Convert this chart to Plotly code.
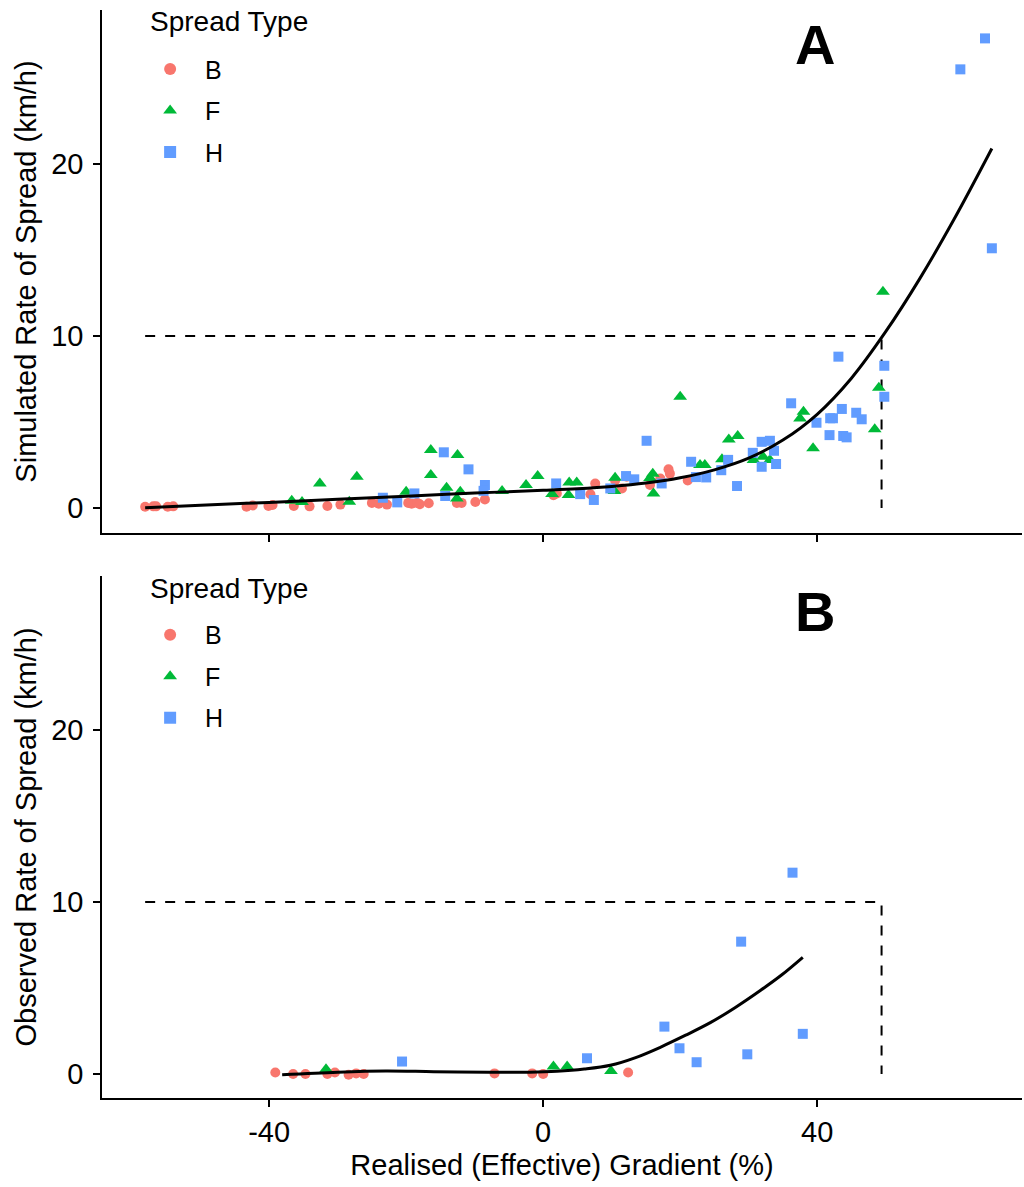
import plotly.graph_objects as go

# ---------------- data ----------------
# Panel A: simulated rate of spread
simB_x = [-58.1, -56.9, -56.5, -54.8, -54.0, -43.3, -42.4, -40.1, -39.5, -36.4, -34.1, -31.5,
          -29.6, -25.0, -24.0, -22.8, -19.7, -19.2, -18.4, -18.0, -16.7, -12.6, -11.9, -9.9,
          -8.5, 1.5, 2.0, 6.9, 7.6, 10.5, 11.5, 12.2, 15.6, 17.1, 18.3, 18.5, 21.1]
simB_y = [0.08, 0.10, 0.10, 0.08, 0.10, 0.08, 0.15, 0.12, 0.18, 0.12, 0.10, 0.12,
          0.20, 0.30, 0.25, 0.20, 0.30, 0.25, 0.30, 0.22, 0.28, 0.30, 0.30, 0.35,
          0.50, 0.75, 0.85, 0.80, 1.43, 1.60, 1.14, 1.82, 1.34, 1.72, 2.25, 2.00, 1.60]

simF_x = [-36.7, -35.2, -32.6, -28.3, -27.2, -20.0, -16.4, -16.4, -14.1, -12.5, -12.1, -12.6,
          -6.0, -2.5, -0.8, 1.3, 3.7, 3.8, 4.9, 10.4, 10.5, 15.6, 16.0, 16.1, 20.0, 22.9,
          23.6, 26.1, 27.1, 28.4, 30.7, 32.1, 33.1, 37.5, 38.0, 39.4, 48.4, 49.0, 49.6]
simF_y = [0.43, 0.35, 1.43, 0.37, 1.82, 0.95, 3.37, 1.92, 1.18, 3.08, 0.95, 0.56,
          0.99, 1.34, 1.86, 0.81, 0.76, 1.49, 1.49, 0.99, 1.76, 1.74, 2.00, 0.85, 6.47, 2.50,
          2.50, 2.83, 3.99, 4.19, 2.79, 2.98, 2.79, 5.20, 5.60, 3.47, 4.58, 7.00, 12.58]

simH_x = [-23.4, -21.3, -18.8, -14.5, -14.3, -10.9, -8.5, -8.7, 1.9, 5.4, 7.4, 9.8, 12.1,
          13.3, 15.1, 17.3, 21.6, 22.3, 23.8, 26.0, 27.0, 28.3, 30.6, 31.9, 33.1, 33.7, 31.9,
          34.0, 36.2, 39.9, 41.9, 42.3, 43.6, 41.8, 43.8, 44.3, 45.7, 46.5, 43.1, 49.8, 49.8,
          60.9, 64.5, 65.5]
simH_y = [0.60, 0.33, 0.85, 3.24, 0.70, 2.25, 1.34, 1.00, 1.43, 0.81, 0.47, 1.14, 1.86,
          1.67, 3.91, 1.43, 2.69, 1.80, 1.78, 2.20, 2.80, 1.28, 3.21, 3.85, 3.91, 3.33, 2.40,
          2.56, 6.09, 4.96, 5.22, 5.22, 5.76, 4.24, 4.19, 4.11, 5.54, 5.16, 8.80, 8.27, 6.47,
          25.5, 27.3, 15.1]

simFit_x = [-58.1, -50, -40, -30, -20, -10, 0, 5, 10, 15, 20, 25, 30, 35, 40, 45, 50,
            55, 60, 65.5]
simFit_y = [0.02, 0.17, 0.33, 0.51, 0.69, 0.87, 1.03, 1.12, 1.25, 1.45, 1.76, 2.22, 2.90,
            3.95, 5.45, 7.55, 10.25, 13.35, 16.8, 20.9]

# Panel B: observed rate of spread
obsB_x = [-39.1, -36.5, -34.7, -31.5, -30.4, -28.4, -27.3, -26.2, -7.1, -1.6, 0.0, 12.4]
obsB_y = [0.08, 0.00, 0.00, 0.00, 0.08, -0.05, 0.03, 0.00, 0.03, 0.03, 0.00, 0.08]

obsF_x = [-31.7, 1.5, 3.5, 9.9]
obsF_y = [0.27, 0.43, 0.43, 0.17]

obsH_x = [-20.6, 6.4, 17.7, 19.9, 22.4, 28.9, 29.8, 36.4, 37.9]
obsH_y = [0.72, 0.91, 2.75, 1.49, 0.68, 7.69, 1.14, 11.70, 2.33]

obsFit_x = [-38.1, -30, -23, -16, -8, -2, 2, 6, 9.8, 13.5, 17.1, 20.8, 24.4, 28, 31.7,
            34.8, 37.9]
obsFit_y = [-0.05, 0.10, 0.17, 0.13, 0.10, 0.10, 0.15, 0.28, 0.50, 0.95, 1.55, 2.25,
            2.98, 3.85, 4.85, 5.75, 6.78]

# threshold guide (10 km/h, ~49.4 % gradient)
thr_x = [-58.1, 49.4, 49.4]
thr_y = [10, 10, 0]

types = ["B", "F", "H"]
colors = {"B": "#F8766D", "F": "#00BA38", "H": "#619CFF"}
symbols = {"B": "circle", "F": "triangle-up", "H": "square"}
sizes = {"B": 10, "F": 12, "H": 10}

x_ticks = [-40, 0, 40]
x_ticktext = ["-40", "0", "40"]
y_ticks = [0, 10, 20]

FONT = "Liberation Sans, Arial, sans-serif"

fig = go.Figure()

panels = [
    dict(xa="x", ya="y", legend="legend",
         pts={"B": (simB_x, simB_y), "F": (simF_x, simF_y), "H": (simH_x, simH_y)},
         fit=(simFit_x, simFit_y)),
    dict(xa="x2", ya="y2", legend="legend2",
         pts={"B": (obsB_x, obsB_y), "F": (obsF_x, obsF_y), "H": (obsH_x, obsH_y)},
         fit=(obsFit_x, obsFit_y)),
]

for p in panels:
    fig.add_trace(go.Scatter(x=thr_x, y=thr_y, mode="lines", xaxis=p["xa"], yaxis=p["ya"],
                             line=dict(color="black", width=2, dash="10px,10px"),
                             showlegend=False, hoverinfo="skip"))
    for t in types:
        xs, ys = p["pts"][t]
        fig.add_trace(go.Scatter(
            x=xs, y=ys, mode="markers", name=t, legendgroup=t,
            xaxis=p["xa"], yaxis=p["ya"], legend=p["legend"],
            marker=dict(color=colors[t], symbol=symbols[t], size=sizes[t], line=dict(width=0)),
        ))
    fx, fy = p["fit"]
    fig.add_trace(go.Scatter(x=fx, y=fy, mode="lines", xaxis=p["xa"], yaxis=p["ya"],
                             line=dict(color="black", width=3, shape="spline", smoothing=1.0,
                                       simplify=False),
                             showlegend=False, hoverinfo="skip"))

axis_common = dict(showline=True, linecolor="black", linewidth=1.6, ticks="outside",
                   ticklen=7, tickwidth=1.6, tickcolor="black", showgrid=False,
                   zeroline=False, tickfont=dict(size=29, color="black", family=FONT))

X_RANGE = [-64.4, 69.9]

legend_common = dict(
    bgcolor="rgba(0,0,0,0)", font=dict(size=25, color="black", family=FONT),
    xanchor="left", yanchor="top", tracegroupgap=6, itemsizing="constant", itemwidth=60,
)

label_font = dict(size=56, color="black", family=FONT)
title_font = dict(size=28, color="black", family=FONT)

fig.update_layout(
    width=1024, height=1187,
    margin=dict(l=102, r=2, t=10, b=89),
    plot_bgcolor="white", paper_bgcolor="white",
    font=dict(family=FONT, color="black"),
    xaxis=dict(axis_common, range=X_RANGE, domain=[0, 1], anchor="y",
               tickvals=x_ticks, ticktext=x_ticktext, showticklabels=False),
    yaxis=dict(axis_common, range=[-1.45, 28.95], domain=[0.5193, 1], anchor="x",
               tickvals=y_ticks, ticklabelstandoff=4,
               title=dict(text="Simulated Rate of Spread (km/h)",
                          font=dict(size=29, color="black", family=FONT), standoff=6)),
    xaxis2=dict(axis_common, range=X_RANGE, domain=[0, 1], anchor="y2",
                tickvals=x_ticks, ticktext=x_ticktext,
                title=dict(text="Realised (Effective) Gradient (%)",
                           font=dict(size=29, color="black", family=FONT), standoff=8)),
    yaxis2=dict(axis_common, range=[-1.4, 28.95], domain=[0, 0.4798], anchor="x2",
                tickvals=y_ticks, ticklabelstandoff=4,
                title=dict(text="Observed Rate of Spread (km/h)",
                           font=dict(size=29, color="black", family=FONT), standoff=6)),
    legend=dict(legend_common, x=0.036, y=0.9667),
    legend2=dict(legend_common, x=0.036, y=0.4467),
    annotations=[
        dict(text="Spread Type", x=0.050, y=0.9890, xref="paper", yref="paper",
             showarrow=False, font=title_font, xanchor="left", yanchor="middle"),
        dict(text="Spread Type", x=0.050, y=0.46875, xref="paper", yref="paper",
             showarrow=False, font=title_font, xanchor="left", yanchor="middle"),
        dict(text="<b>A</b>", x=0.775, y=0.9687, xref="paper", yref="paper",
             showarrow=False, font=label_font, xanchor="center", yanchor="middle"),
        dict(text="<b>B</b>", x=0.775, y=0.4476, xref="paper", yref="paper",
             showarrow=False, font=label_font, xanchor="center", yanchor="middle"),
    ],
)

fig.write_html("out.html")
